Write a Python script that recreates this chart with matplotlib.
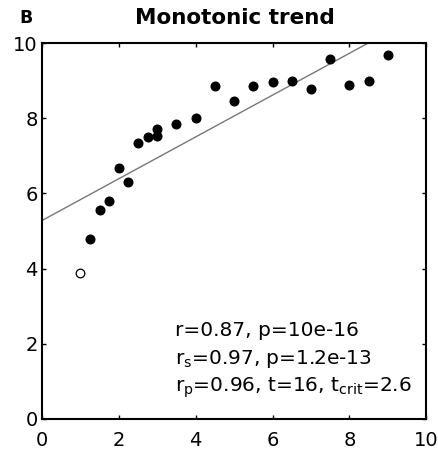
import matplotlib
matplotlib.use("Agg")
import matplotlib.pyplot as plt

plt.rcParams['font.family'] = ['DejaVu Sans']
plt.rcParams['mathtext.fontset'] = 'dejavusans'

# datos
x_lleno = [1.25, 1.5, 1.75, 2.0, 2.25, 2.5, 2.75, 3.0, 3.0, 3.5, 4.0, 4.5,
           5.0, 5.5, 6.0, 6.5, 7.0, 7.5, 8.0, 8.5, 9.0]
y_lleno = [4.78, 5.56, 5.80, 6.67, 6.30, 7.33, 7.51, 7.53, 7.71, 7.85, 8.01, 8.86,
           8.46, 8.87, 8.97, 9.00, 8.79, 9.59, 8.88, 8.98, 9.68]
x_abierto = [1.0]
y_abierto = [3.87]

# recta ajustada
ordenada = 5.28
pendiente = 0.556
x_recta = [0, 10]

ticks = [0, 2, 4, 6, 8, 10]
textos = ["r=0.87, p=10e-16",
          r"r$_\mathrm{s}$=0.97, p=1.2e-13",
          r"r$_\mathrm{p}$=0.96, t=16, t$_\mathrm{crit}$=2.6"]

fig = plt.figure(figsize=(4.38, 4.49), dpi=100)
ax = fig.add_axes([0.096, 0.067, 0.877, 0.837])

ax.plot(x_recta, [ordenada + pendiente * v for v in x_recta], color='#777777', lw=1.0)
ax.plot(x_lleno, y_lleno, 'o', color='black', markersize=6.2)
ax.plot(x_abierto, y_abierto, 'o', mfc='white', mec='black', mew=0.9, markersize=6.2)

ax.set_xlim(0, 10)
ax.set_ylim(0, 10)
ax.set_xticks(ticks)
ax.set_yticks(ticks)
ax.tick_params(direction='in', top=True, right=True, length=3, width=1,
               labelsize=14)
ax.tick_params(axis='x', pad=9)
ax.tick_params(axis='y', pad=3)
for s in ax.spines.values():
    s.set_linewidth(1.5)

for i, t in enumerate(textos):
    ax.text(3.45, 2.35 - i * 0.76, t, fontsize=14.5, va='center', ha='left')

fig.text(0.536, 0.960, "Monotonic trend", fontsize=15.5, fontweight='bold',
         ha='center', va='center')
fig.text(0.045, 0.960, "B", fontsize=12.5, fontweight='bold', ha='left', va='center')

fig.savefig("out.png", dpi=100)
